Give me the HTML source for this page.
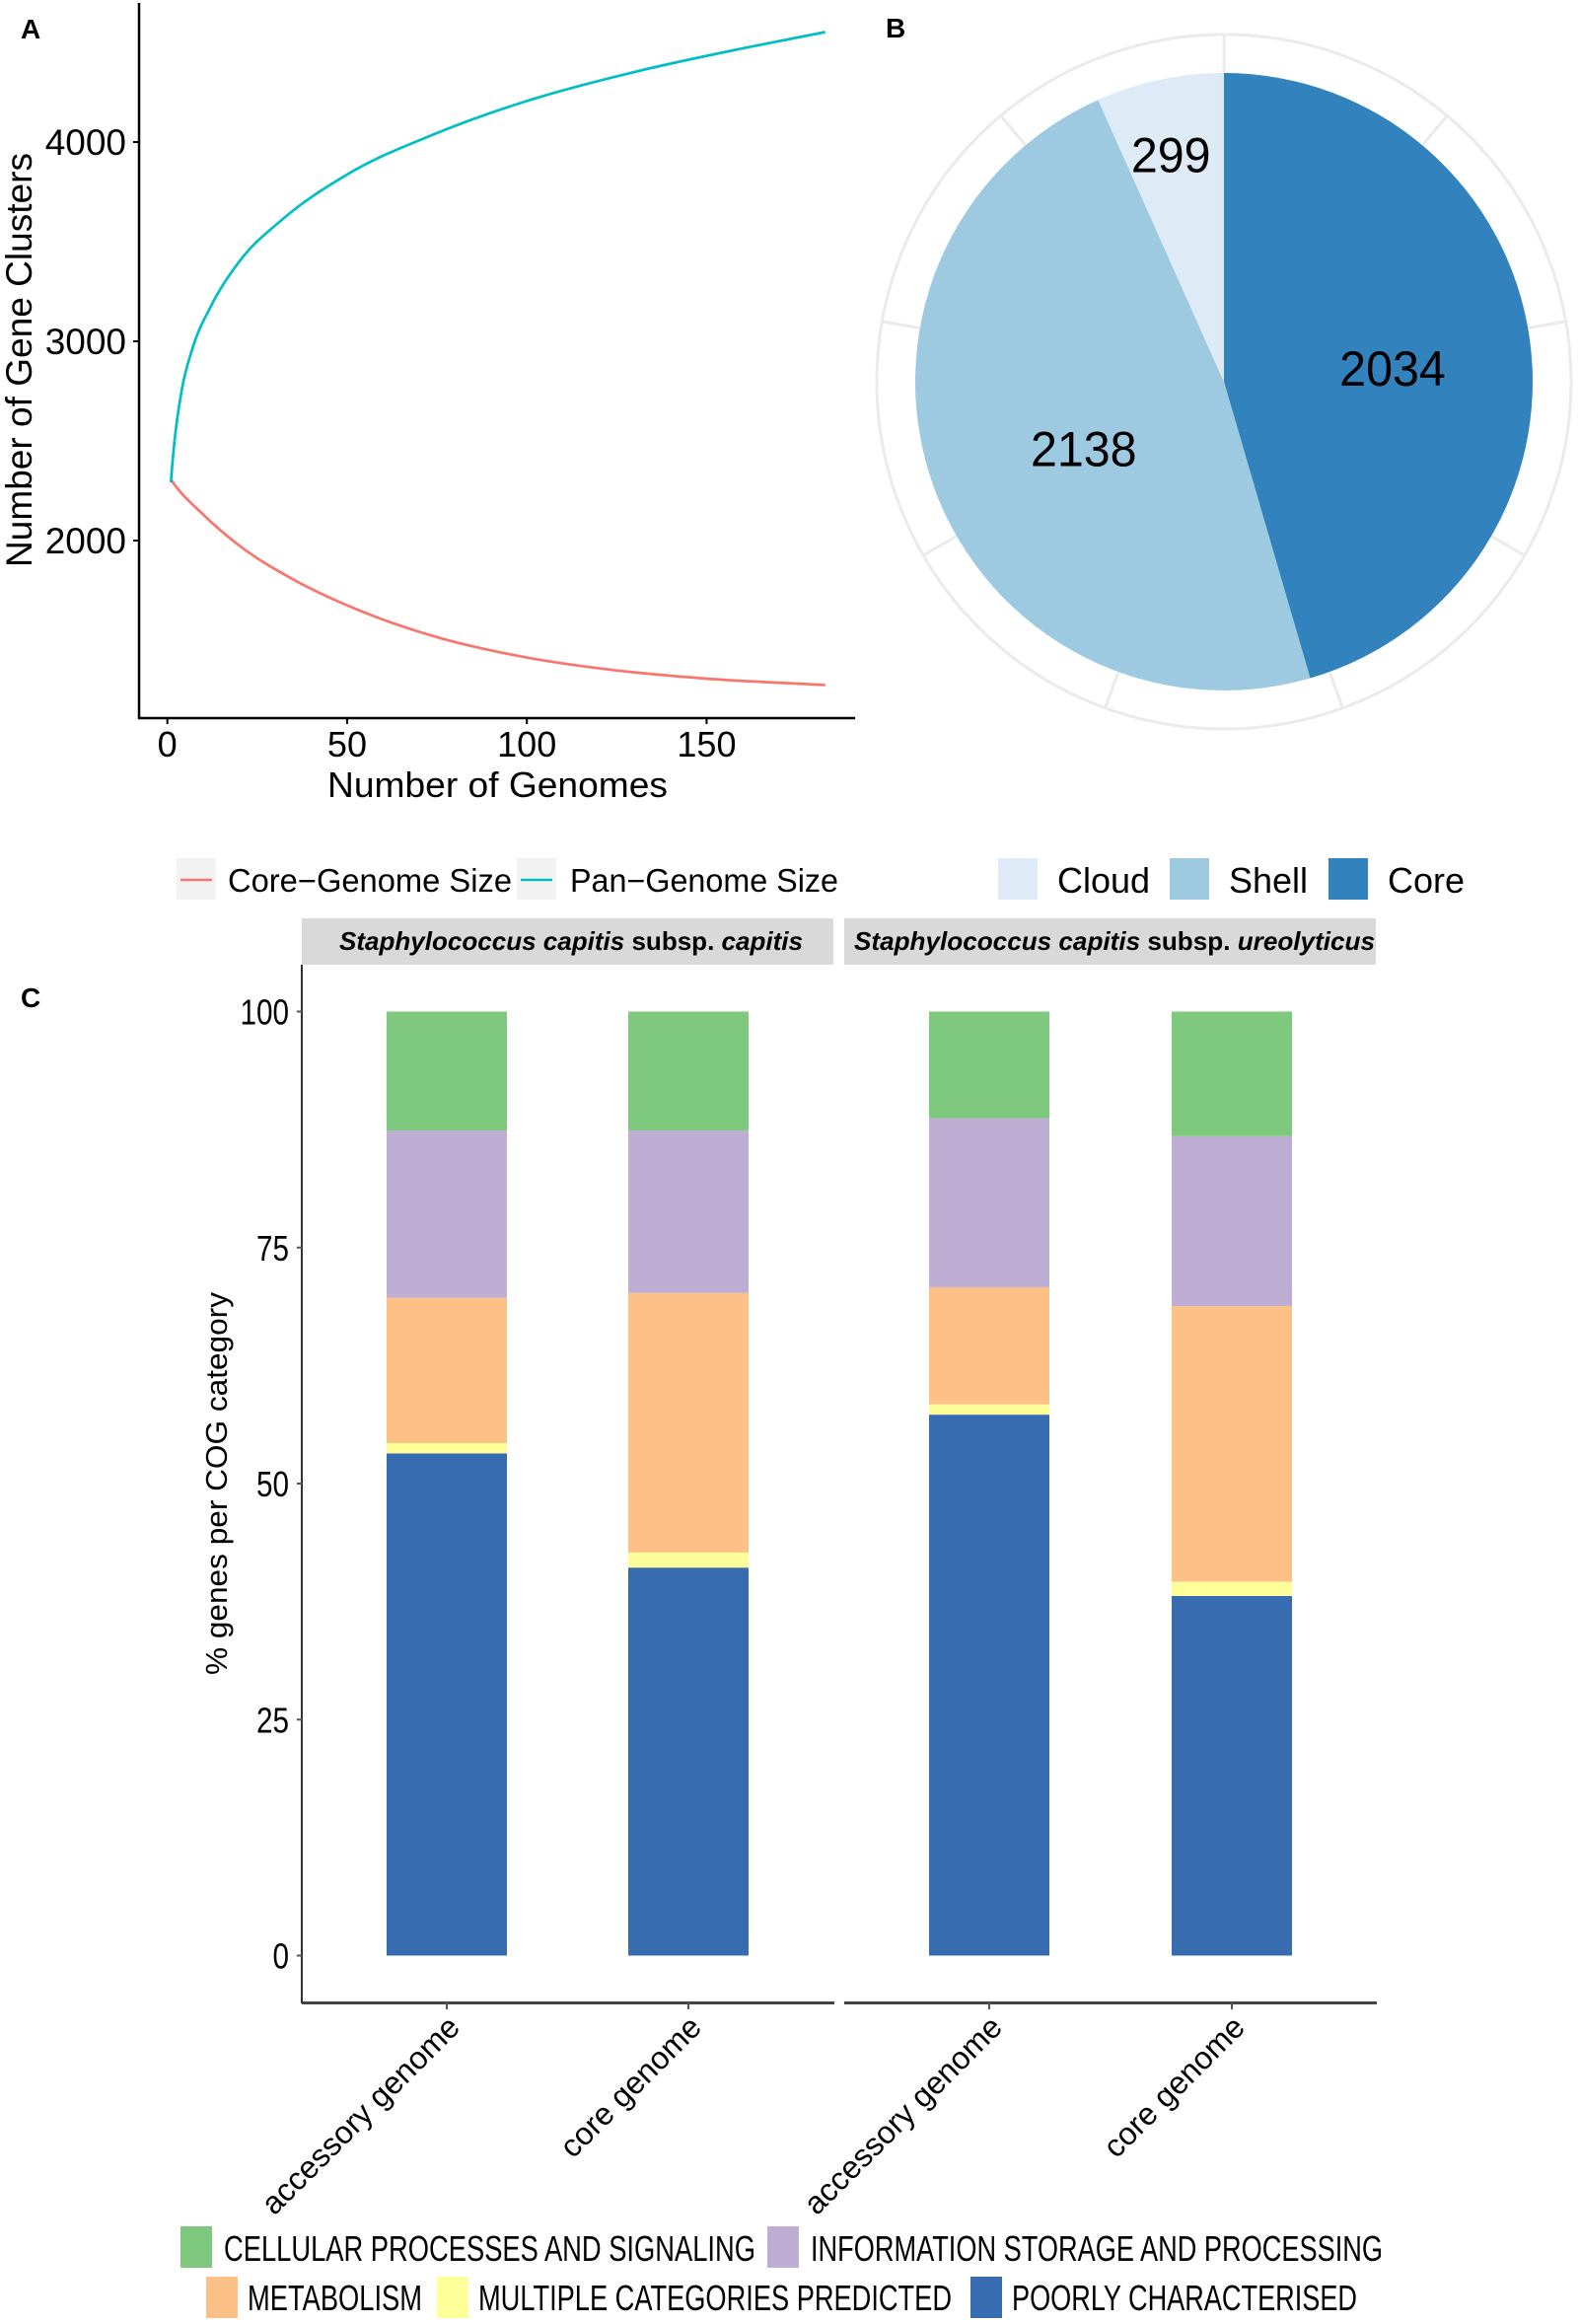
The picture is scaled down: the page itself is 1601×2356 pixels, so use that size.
<!DOCTYPE html>
<html lang="en">
<head>
<meta charset="utf-8">
<title>Staphylococcus capitis pan-genome figure</title>
<style>
html,body{margin:0;padding:0;background:#fff;}
svg{display:block;font-family:"Liberation Sans",sans-serif;fill:#000;}
</style>
</head>
<body>
<svg id="fig" xmlns="http://www.w3.org/2000/svg" width="1601" height="2356" viewBox="0 0 1601 2356">
  <rect width="1601" height="2356" fill="#fff"/>

  <text x="21" y="39" font-size="28" font-weight="bold">A</text>
  <text x="898" y="38" font-size="28" font-weight="bold">B</text>
  <text x="21" y="1021" font-size="28" font-weight="bold">C</text>

  <!-- Panel A -->
  <g id="panelA">
    <line x1="141" y1="3" x2="141" y2="729" stroke="#000" stroke-width="2.5"/>
    <line x1="140" y1="728" x2="867" y2="728" stroke="#000" stroke-width="2.5"/>
    <text transform="translate(32,365) rotate(-90)" text-anchor="middle" font-size="37" textLength="420" lengthAdjust="spacingAndGlyphs">Number of Gene Clusters</text>
    <text x="332" y="808" font-size="36" textLength="345" lengthAdjust="spacingAndGlyphs">Number of Genomes</text>
  </g>
  <g>
    <rect x="179" y="870" width="40" height="42" fill="#f2f2f2"/>
    <line x1="183" y1="892" x2="215" y2="892" stroke="#F8766D" stroke-width="2.5"/>
    <text x="231" y="904" font-size="33" textLength="288" lengthAdjust="spacingAndGlyphs">Core−Genome Size</text>
    <rect x="524" y="870" width="40" height="42" fill="#f2f2f2"/>
    <line x1="528" y1="892" x2="560" y2="892" stroke="#00BFC4" stroke-width="2.5"/>
    <text x="578" y="904" font-size="33" textLength="272" lengthAdjust="spacingAndGlyphs">Pan−Genome Size</text>
  </g>

  <!-- Panel B -->
  <g id="panelB"></g>
  <g>
    <rect x="1012" y="870" width="40" height="42" fill="#deebf7"/>
    <text x="1072" y="905" font-size="36">Cloud</text>
    <rect x="1186" y="870" width="40" height="42" fill="#9ecae1"/>
    <text x="1246" y="905" font-size="36">Shell</text>
    <rect x="1347" y="870" width="40" height="42" fill="#3182bd"/>
    <text x="1407" y="905" font-size="36">Core</text>
  </g>

  <!-- Panel C -->
  <g id="panelC">
    <rect x="306" y="931" width="539" height="47" fill="#d9d9d9"/>
    <rect x="856" y="931" width="539" height="47" fill="#d9d9d9"/>
    <text x="344" y="963" font-size="26" font-weight="bold" textLength="470" lengthAdjust="spacingAndGlyphs"><tspan font-style="italic">Staphylococcus capitis</tspan> subsp. <tspan font-style="italic">capitis</tspan></text>
    <text x="866" y="963" font-size="26" font-weight="bold" textLength="528" lengthAdjust="spacingAndGlyphs"><tspan font-style="italic">Staphylococcus capitis</tspan> subsp. <tspan font-style="italic">ureolyticus</tspan></text>
    <line x1="306" y1="978" x2="306" y2="2031" stroke="#333" stroke-width="2"/>
    <line x1="306" y1="2030.5" x2="846" y2="2030.5" stroke="#444" stroke-width="3"/>
    <line x1="856" y1="2030.5" x2="1396" y2="2030.5" stroke="#444" stroke-width="3"/>
    <text transform="translate(230,1504) rotate(-90)" text-anchor="middle" font-size="31" textLength="388" lengthAdjust="spacingAndGlyphs">% genes per COG category</text>
  </g>

  <!-- Panel C legend -->
  <g>
    <rect x="183" y="2257" width="32" height="42" fill="#7fc97f"/>
    <text x="227" y="2292" font-size="36" textLength="539" lengthAdjust="spacingAndGlyphs">CELLULAR PROCESSES AND SIGNALING</text>
    <rect x="778" y="2257" width="32" height="42" fill="#beaed4"/>
    <text x="822" y="2292" font-size="36" textLength="580" lengthAdjust="spacingAndGlyphs">INFORMATION STORAGE AND PROCESSING</text>
    <rect x="209" y="2308" width="32" height="42" fill="#fdc086"/>
    <text x="251" y="2342" font-size="36" textLength="177" lengthAdjust="spacingAndGlyphs">METABOLISM</text>
    <rect x="443" y="2308" width="32" height="42" fill="#ffff99"/>
    <text x="485" y="2342" font-size="36" textLength="480" lengthAdjust="spacingAndGlyphs">MULTIPLE CATEGORIES PREDICTED</text>
    <rect x="984" y="2308" width="32" height="42" fill="#386cb0"/>
    <text x="1026" y="2342" font-size="36" textLength="350" lengthAdjust="spacingAndGlyphs">POORLY CHARACTERISED</text>
  </g>
</svg>

<script>
// ---- Panel A data ----
const panGenomes = [1,2,4,7,12,20,32,50,75,100,130,160,183];
const panSize = [2292,2500,2755,2965,3172,3400,3612,3837,4045,4206,4352,4470,4552];
const coreGenomes = [1,10,20,35,50,75,100,125,150,183];
const coreSize = [2307,2130,1975,1805,1675,1515,1413,1348,1307,1275];
const xTicksA = [0,50,100,150];
const yTicksA = [2000,3000,4000];

// ---- Panel B data ----
const pieLabels = ['Core','Shell','Cloud'];
const pieValues = [2034,2138,299];
const pieColors = ['#3182bd','#9ecae1','#deebf7'];
const pieGridStep = 40;

// ---- Panel C data ----
const barCategories = ['accessory genome','core genome','accessory genome','core genome'];
const poorlyCharacterised = [53.2,41.1,57.3,38.1];
const multipleCategories = [1.1,1.6,1.1,1.5];
const metabolism = [15.4,27.5,12.4,29.2];
const informationStorage = [17.7,17.2,17.9,18.0];
const cellularProcesses = [12.6,12.6,11.3,13.2];
const yTicksC = [0,25,50,75,100];

const NS = 'http://www.w3.org/2000/svg';
function mk(parent, tag, attrs, txt) {
  const el = document.createElementNS(NS, tag);
  for (const k in attrs) el.setAttribute(k, attrs[k]);
  if (txt !== undefined) el.textContent = txt;
  parent.appendChild(el);
  return el;
}

// ---- Panel A ----
const gA = document.getElementById('panelA');
const xA = v => 169.7 + v * 3.645;
const yA = v => 548 - (v - 2000) * 0.202;
function smoothPath(xs, ys) {
  const px = xs.map(xA), py = ys.map(yA), n = px.length;
  const h = [], s = [], m = [];
  for (let i = 0; i < n - 1; i++) {
    h.push(px[i + 1] - px[i]);
    s.push((py[i + 1] - py[i]) / h[i]);
  }
  m.push(s[0] * 1.4);
  for (let i = 1; i < n - 1; i++) m.push((h[i] * s[i - 1] + h[i - 1] * s[i]) / (h[i] + h[i - 1]));
  m.push(s[n - 2]);
  let d = 'M' + px[0].toFixed(2) + ' ' + py[0].toFixed(2);
  for (let i = 0; i < n - 1; i++) {
    const t = h[i] / 3;
    d += 'C' + (px[i] + t).toFixed(2) + ' ' + (py[i] + m[i] * t).toFixed(2) + ' ' +
         (px[i + 1] - t).toFixed(2) + ' ' + (py[i + 1] - m[i + 1] * t).toFixed(2) + ' ' +
         px[i + 1].toFixed(2) + ' ' + py[i + 1].toFixed(2);
  }
  return d;
}
yTicksA.forEach(v => {
  const t = mk(gA, 'line', {x1: 135, x2: 141, y1: yA(v), y2: yA(v), stroke: '#000', 'stroke-width': 2});
  
  
  const l = mk(gA, 'text', {x: 128, y: yA(v) + 13, 'text-anchor': 'end', 'font-size': 37}, String(v));
  
  
});
xTicksA.forEach(v => {
  const t = mk(gA, 'line', {x1: xA(v), x2: xA(v), y1: 728, y2: 734, stroke: '#000', 'stroke-width': 2});
  
  
  const l = mk(gA, 'text', {x: xA(v), y: 767, 'text-anchor': 'middle', 'font-size': 36}, String(v));
  
  
});
const corePath = mk(gA, 'path', {d: smoothPath(coreGenomes, coreSize), fill: 'none', stroke: '#F8766D', 'stroke-width': 2.7});


const panPath = mk(gA, 'path', {d: smoothPath(panGenomes, panSize), fill: 'none', stroke: '#00BFC4', 'stroke-width': 2.7});



// ---- Panel B ----
const gB = document.getElementById('panelB');
const cx = 1241, cy = 387, rPie = 313, rRing = 352;
const pol = (r, deg) => [cx + r * Math.sin(deg * Math.PI / 180), cy - r * Math.cos(deg * Math.PI / 180)];
const ring = mk(gB, 'circle', {cx: cx, cy: cy, r: rRing, fill: 'none', stroke: '#ebebeb', 'stroke-width': 3});


for (let a = 0; a < 360; a += pieGridStep) {
  const p1 = pol(rPie, a), p2 = pol(rRing, a);
  const gl = mk(gB, 'line', {x1: p1[0], y1: p1[1], x2: p2[0], y2: p2[1], stroke: '#ebebeb', 'stroke-width': 3});
  
  
}
const pieTotal = pieValues.reduce((a, b) => a + b, 0);
let angle = 0;
pieValues.forEach((v, i) => {
  const sweep = v / pieTotal * 360;
  const s = pol(rPie, angle), e = pol(rPie, angle + sweep);
  const d = 'M' + cx + ' ' + cy + 'L' + s[0] + ' ' + s[1] + 'A' + rPie + ' ' + rPie + ' 0 ' + (sweep > 180 ? 1 : 0) + ' 1 ' + e[0] + ' ' + e[1] + 'Z';
  const slice = mk(gB, 'path', {d: d, fill: pieColors[i]});
  
  
  angle += sweep;
});
angle = 0;
const labelRadius = [0.585, 0.5, 0.78];
const labelShift = [[-10.5, 12], [4.5, 13.5], [-3, 8.5]];
pieValues.forEach((v, i) => {
  const sweep = v / pieTotal * 360;
  const p = pol(rPie * labelRadius[i], angle + sweep / 2);
  const label = String(v);
  const t = mk(gB, 'text', {x: p[0] + labelShift[i][0] - label.length * 13.4, y: p[1] + labelShift[i][1] + 18, 'font-size': 50, textLength: label.length * 26.9, lengthAdjust: 'spacingAndGlyphs'}, label);
  
  
  angle += sweep;
});

// ---- Panel C ----
const gC = document.getElementById('panelC');
const barCenters = [453, 698, 1003, 1249];
const barWidth = 122;
const yC = v => 1982.5 - v * 9.57;
const stackOrder = [
  ['poorly', poorlyCharacterised, '#386cb0'],
  ['multiple', multipleCategories, '#ffff99'],
  ['metabolism', metabolism, '#fdc086'],
  ['information', informationStorage, '#beaed4'],
  ['cellular', cellularProcesses, '#7fc97f']
];
yTicksC.forEach(v => {
  const t = mk(gC, 'line', {x1: 301, x2: 306, y1: yC(v), y2: yC(v), stroke: '#555', 'stroke-width': 2});
  
  
  const label = String(v);
  const w = label.length * 16.5;
  const l = mk(gC, 'text', {x: 293 - w, y: yC(v) + 13, 'font-size': 36, textLength: w, lengthAdjust: 'spacingAndGlyphs'}, label);
  
  
});
barCategories.forEach((cat, i) => {
  const c = barCenters[i];
  let base = 0;
  stackOrder.forEach(s => {
    const top = base + s[1][i];
    const r = mk(gC, 'rect', {x: c - barWidth / 2, y: yC(top), width: barWidth, height: yC(base) - yC(top), fill: s[2]});
    
    
    base = top;
  });
  const t = mk(gC, 'line', {x1: c, x2: c, y1: 2030, y2: 2037, stroke: '#555', 'stroke-width': 2});
  
  
  const l = mk(gC, 'text', {transform: 'translate(' + (c + 15) + ',2057) rotate(-45)', 'text-anchor': 'end', 'font-size': 32}, cat);
  
  
});
</script>
</body>
</html>
